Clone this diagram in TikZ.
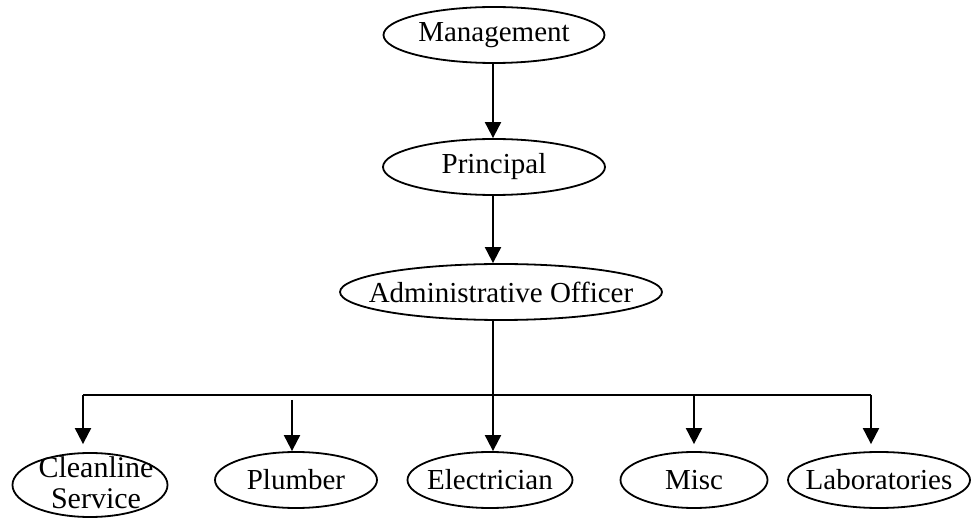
\documentclass[tikz,border=0pt]{standalone}
\usepackage{fontspec}
\setmainfont{Liberation Serif}
\usetikzlibrary{shapes.geometric,arrows.meta}

\tikzset{
    unit/.style={draw,ellipse,line width=1.8pt,inner sep=0pt,
        minimum height=56pt,font=\fontsize{29}{31}\selectfont},
    arr/.style={line width=2pt,-{Triangle[length=16pt,width=16pt]}},
    wire/.style={line width=2pt}
}

\begin{document}
\begin{tikzpicture}[x=1pt,y=-1pt]
    \useasboundingbox (0,0) rectangle (972,518);

    % Top of the chart
    \node[unit,minimum width=221pt] (mgmt) at (494,35) {\makebox[0pt]{Management}};
    \node[unit,minimum width=222pt] (prin) at (494,167) {\makebox[0pt]{Principal}};
    \node[unit,minimum width=322pt] (ao) at (501,292) {\makebox[0pt]{Administrative Officer}};

    \draw[arr] (mgmt.south -| 493,0) -- (prin.north -| 493,0);
    \draw[arr] (prin.south -| 493,0) -- (ao.north -| 493,0);

    % Bus line
    \coordinate (bus) at (493,395);
    \coordinate (busL) at (83,395);
    \coordinate (busR) at (871,395);
    \draw[wire] (ao.south -| bus) -- (bus);
    \draw[wire] (busL) -- (busR);

    % Staff
    \node[unit,minimum width=155pt,minimum height=64pt] (cls) at (90,485) {};
    \node[font=\fontsize{30}{31}\selectfont,align=center,inner sep=0pt,anchor=base] (clstext) at (96,508) {Cleanline\\Service};
    \node[unit,minimum width=162pt] (plb) at (296,480) {\makebox[0pt]{Plumber}};
    \node[unit,minimum width=165pt] (elc) at (490,480) {\makebox[0pt]{Electrician}};
    \node[unit,minimum width=147pt] (misc) at (694,480) {\makebox[0pt]{Misc}};
    \node[unit,minimum width=182pt] (lab) at (879,480) {\makebox[0pt]{Laboratories}};

    \coordinate (plbtop) at (292,400);
    \draw[arr] (busL) -- ([yshift=8pt]cls.north -| busL);
    \draw[arr] (plbtop) -- (plb.north -| plbtop);
    \draw[arr] (bus) -- (elc.north -| bus);
    \draw[arr] (bus -| misc) -- ([yshift=7pt]misc.north);
    \draw[arr] (busR) -- ([yshift=7pt]lab.north -| busR);

\end{tikzpicture}
\end{document}
